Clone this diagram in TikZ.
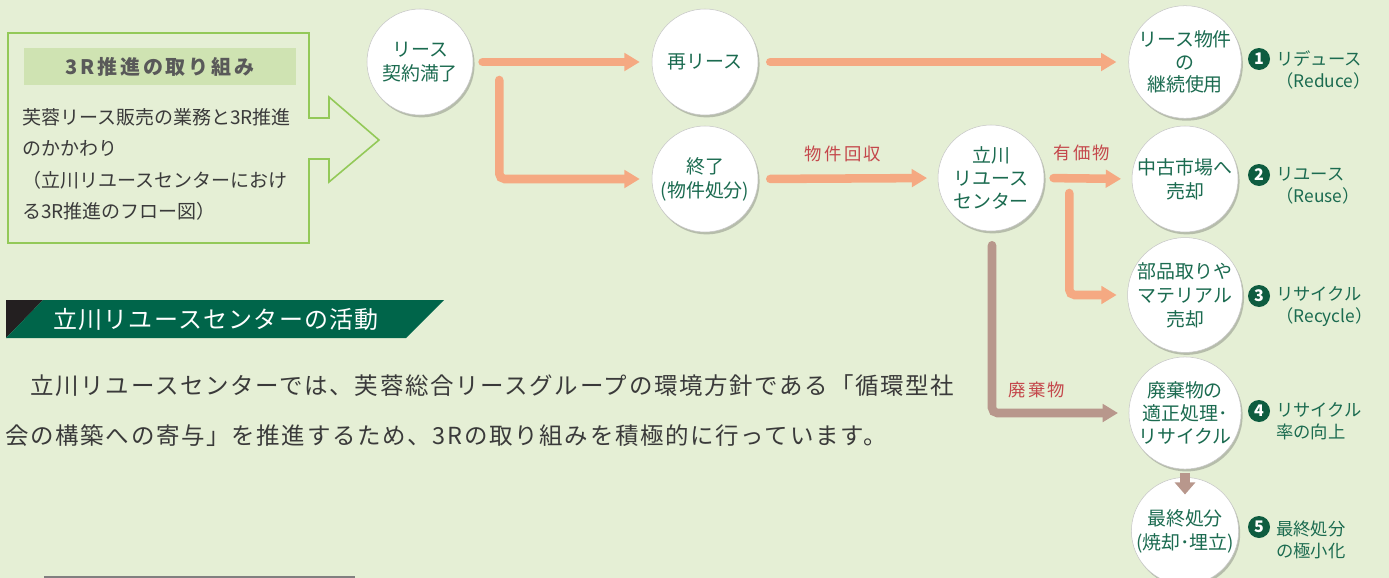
\documentclass[tikz,border=0pt]{standalone}
\usepackage{fontspec}
\setmainfont{Noto Sans CJK JP}
\usetikzlibrary{arrows.meta,calc,shadows}
\definecolor{bg}{HTML}{E5EFD5}
\definecolor{tgreen}{HTML}{1B6B50}
\definecolor{badge}{HTML}{0E5C40}
\definecolor{oarr}{HTML}{F5A982}
\definecolor{barr}{HTML}{B8978C}
\definecolor{lred}{HTML}{C4474B}
\definecolor{boxline}{HTML}{93C958}
\definecolor{strip}{HTML}{CFE3B2}
\definecolor{banner}{HTML}{00654A}
\definecolor{bannerdark}{HTML}{231F20}
\definecolor{txt}{HTML}{3A3A3A}
\begin{document}
\begin{tikzpicture}[x=0.75pt,y=-0.75pt,
  circ/.style={circle,draw=black!22,line width=0.4pt,fill=white,minimum size=79.5pt,inner sep=0pt,
    align=center,text=tgreen,font=\fontsize{14.2}{18}\selectfont,
    drop shadow={shadow xshift=1.2pt,shadow yshift=-1.8pt,opacity=0.3,fill=black!70}},
  oarrow/.style={draw=oarr,line width=6.4pt,line cap=round,rounded corners=4pt,
    -{Triangle[length=11.5pt,width=13pt]}},
  barrow/.style={oarrow,draw=barr},
  lbl/.style={text=lred,inner sep=0pt,font=\fontsize{13}{15}\selectfont\addfontfeature{LetterSpace=13}},
  bdg/.style={circle,fill=badge,minimum size=16.5pt,inner sep=0pt,text=white,font=\bfseries\fontsize{12}{13}\selectfont},
  rtxt/.style={anchor=west,align=left,inner sep=0pt,text=tgreen,font=\fontsize{13}{16.5}\selectfont}]
\useasboundingbox (0,0) rectangle (1389,578);
\clip (0,0) rectangle (1389,578);
\fill[bg] (0,0) rectangle (1389,578);

% left box with arrow
\draw[boxline,line width=1.2pt] (8,33) -- (309,33) -- (309,118) -- (329,118) -- (329,97) -- (379,140)
  -- (329,182) -- (329,159) -- (309,159) -- (309,243) -- (8,243) -- cycle;
\node[fill=strip,minimum width=204pt,minimum height=27.75pt,inner sep=0pt,text=black!65,
  font=\bfseries\fontsize{15}{18}\selectfont\addfontfeature{LetterSpace=14}] (hdr) at (160,66.5) {3R推進の取り組み};
\node[anchor=west,align=left,inner sep=0pt,text=txt,font=\fontsize{14.25}{23.6}\selectfont] (body) at (22,164.5)
  {芙蓉リース販売の業務と3R推進\\のかかわり\\（立川リユースセンターにおけ\\る3R推進のフロー図）};

% banner
\fill[bannerdark] (6,300) -- (43,300) -- (6,338) -- cycle;
\fill[banner] (43,300) -- (444,300) -- (406,338) -- (6,338) -- cycle;
\node[text=white,inner sep=0pt,font=\fontsize{18}{20}\selectfont\addfontfeature{LetterSpace=5}] (ban) at (216,319)
  {立川リユースセンターの活動};

% paragraph
\node[anchor=west,align=left,inner sep=0pt,text=txt,
  font=\fontsize{17.6}{37.5}\selectfont\addfontfeature{LetterSpace=7.2}] (para) at (5,411)
  {　立川リユースセンターでは、芙蓉総合リースグループの環境方針である「循環型社\\会の構築への寄与」を推進するため、3Rの取り組みを積極的に行っています。};

% photo edge
\fill[black!50] (44,576) rectangle (355,578);

% circles
\node[circ] (c1) at (420,62) {リース\\契約満了};
\node[circ] (c2) at (705,62) {再リース};
\node[circ] (c3) at (705,179) {終了\\(物件処分)};
\node[circ,font=\fontsize{14.2}{17}\selectfont] (c6) at (991,178) {立川\\リユース\\センター};
\node[circ,font=\fontsize{14.2}{17}\selectfont] (c7) at (1185,62) {リース物件\\の\\継続使用};
\node[circ] (c8) at (1185,179) {中古市場へ\\売却};
\node[circ] (c9) at (1185,295) {部品取りや\\マテリアル\\売却};
\node[circ,font=\fontsize{14.2}{17}\selectfont] (c10) at (1185,413) {廃棄物の\\適正処理･\\リサイクル};
\node[circ] (c11) at (1185,531) {最終処分\\(焼却･埋立)};

% arrows
\draw[oarrow,shorten <=7pt,shorten >=9pt] (c1.east) -- (c2.west);
\draw[oarrow,shorten >=9pt] ($(c1.east)+(26,18)$) |- (c3.west);
\draw[oarrow,shorten <=9pt,shorten >=9pt] (c2.east) -- (c7.west);
\draw[oarrow,shorten <=9pt,shorten >=8pt] (c3.east) -- (c6.west);
\draw[oarrow,shorten <=7pt,shorten >=8pt] (c6.east) -- (c8.west);
\draw[oarrow,shorten >=8pt] ($(c6.east)+(25,15)$) |- (c9.west);
\draw[barrow,shorten >=8pt] ($(c6.south)+(1,14)$) |- (c10.west);
\draw[draw=barr,line width=7.5pt,-{Triangle[length=9pt,width=15pt]},shorten <=3pt,shorten >=-13pt] (c10.south) -- (c11.north);

% arrow labels
\node[lbl] (l1) at (843,154) {物件回収};
\node[lbl] (l2) at (1082,153) {有価物};
\node[lbl] (l3) at (1037,390) {廃棄物};

% right side labels
\node[bdg] (b1) at (1259,59) {1};
\node[rtxt] (r1) at (1276,69.5) {リデュース\\（Reduce）};
\node[bdg] (b2) at (1259,175) {2};
\node[rtxt] (r2) at (1276,186) {リユース\\（Reuse）};
\node[bdg] (b3) at (1259,296) {3};
\node[rtxt] (r3) at (1276,306.5) {リサイクル\\（Recycle）};
\node[bdg] (b4) at (1259,411) {4};
\node[rtxt] (r4) at (1276,421) {リサイクル\\率の向上};
\node[bdg] (b5) at (1259,527) {5};
\node[rtxt] (r5) at (1276,540) {最終処分\\の極小化};
\end{tikzpicture}
\end{document}
